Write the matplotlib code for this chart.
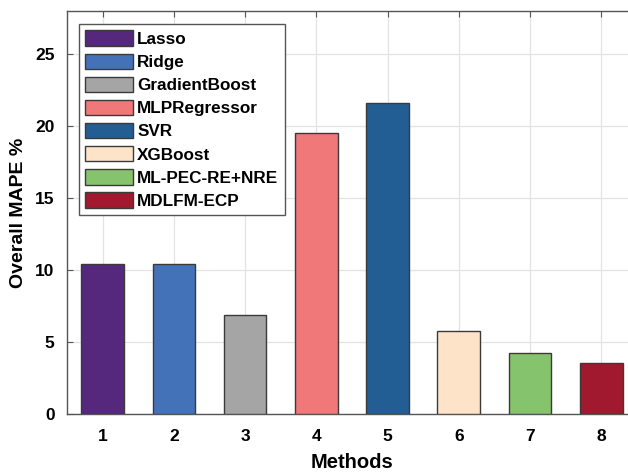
import matplotlib
matplotlib.use('Agg')
import matplotlib.pyplot as plt

# Chart data
methods = [1, 2, 3, 4, 5, 6, 7, 8]
names = ["Lasso", "Ridge", "GradientBoost", "MLPRegressor", "SVR",
         "XGBoost", "ML-PEC-RE+NRE", "MDLFM-ECP"]
mape = [10.4, 10.45, 6.85, 19.55, 21.6, 5.75, 4.25, 3.57]
colors = ["#55287e", "#4472b8", "#a5a5a5", "#f07878", "#225e93",
          "#fde3c8", "#85c46c", "#a0192e"]

plt.rcParams['font.family'] = ['Liberation Sans', 'DejaVu Sans']
plt.rcParams['font.weight'] = 'bold'

fig = plt.figure(figsize=(6.28, 4.72), dpi=100)
ax = fig.add_axes([0.1067, 0.123, 0.9076, 0.853])

for m, v, c, n in zip(methods, mape, colors, names):
    ax.bar(m, v, width=0.6, color=c, edgecolor='#3a3a3a', linewidth=1.0,
           label=n, zorder=3)

ax.set_xlim(0.5, 8.5)
ax.set_ylim(0, 28)
ax.set_xticks(methods)
ax.set_yticks([0, 5, 10, 15, 20, 25])
ax.grid(True, color='#e3e3e3', linewidth=0.9, zorder=0)
ax.tick_params(direction='in', top=True, right=True, labelsize=12.5,
               length=4, color='#555555')
ax.tick_params(axis='x', pad=11)
ax.tick_params(axis='y', pad=9)
for s in ax.spines.values():
    s.set_color('#555555')
    s.set_linewidth(1.0)

ax.set_xlabel("Methods", fontsize=14.5, fontweight='bold', labelpad=6)
ax.set_ylabel("Overall MAPE %", fontsize=14, fontweight='bold', labelpad=6)

leg = ax.legend(loc='upper left', bbox_to_anchor=(0.021, 0.968), fontsize=12.3,
                handlelength=2.8, handleheight=1.0, labelspacing=0.39,
                handletextpad=0.25, borderpad=0.36, borderaxespad=0,
                fancybox=False, framealpha=1, edgecolor='#555555')
leg.get_frame().set_linewidth(1.0)

plt.savefig('out.png', dpi=100)
